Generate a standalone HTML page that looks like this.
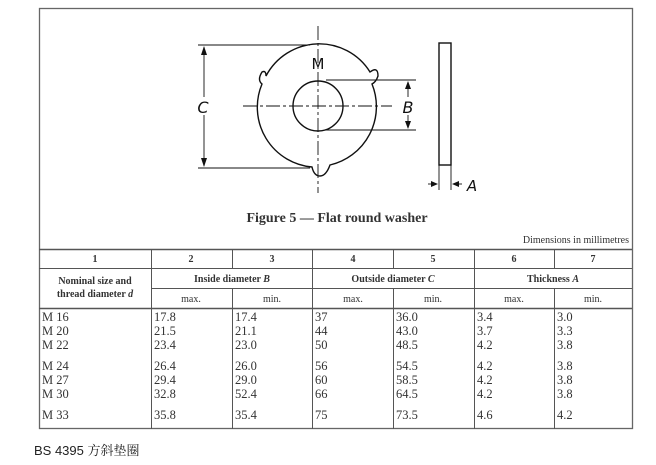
<!DOCTYPE html>
<html><head><meta charset="utf-8"><style>
html,body{margin:0;padding:0;background:#fff;width:656px;height:465px;overflow:hidden}
svg{display:block}
.s{font-family:"Liberation Serif",serif;fill:#333}
.d{font-family:"DejaVu Sans",sans-serif;fill:#111}
</style></head><body>
<svg width="656" height="465" viewBox="0 0 656 465" xmlns="http://www.w3.org/2000/svg">
<rect x="39.5" y="8.5" width="593" height="420" fill="none" stroke="#666" stroke-width="1.3"/>
<g stroke="#111" fill="none" stroke-width="1.4">
<path d="M266 76 A60 60 0 0 1 370 72 Q378 66 378 76 Q376 82 372 84 A60 60 0 0 1 330 165 Q326 176 320 176 Q314 176 312 167 A60 60 0 0 1 262 84 Q257 80 262 72 Q266 70 266 76 Z"/>
<circle cx="318" cy="106" r="25"/>
<rect x="439" y="43" width="12" height="122"/>
</g>
<g stroke="#111" stroke-width="0.9" fill="none">
<line x1="318" y1="26" x2="318" y2="193" stroke-dasharray="14,3,3,3"/>
<line x1="243" y1="106" x2="392" y2="106" stroke-dasharray="14,3,3,3"/>
<line x1="198" y1="45" x2="310" y2="45"/>
<line x1="198" y1="168" x2="310" y2="168"/>
<line x1="204" y1="47" x2="204" y2="166"/>
<line x1="326" y1="80" x2="416" y2="80"/>
<line x1="326" y1="130" x2="416" y2="130"/>
<line x1="408" y1="82" x2="408" y2="128"/>
<line x1="439" y1="165" x2="439" y2="190"/>
<line x1="451" y1="165" x2="451" y2="190"/>
<line x1="428" y1="184" x2="437" y2="184"/>
<line x1="453" y1="184" x2="462" y2="184"/>
</g>
<g fill="#111">
<path d="M204 46 l-3 9 h6z"/><path d="M204 167 l-3 -9 h6z"/>
<path d="M408 81 l-3 8 h6z"/><path d="M408 129 l-3 -8 h6z"/>
<path d="M438 184 l-7 -3 v6z"/><path d="M452 184 l7 -3 v6z"/>
</g>
<rect x="195" y="97" width="16" height="18" fill="#fff"/>
<rect x="400" y="97" width="16" height="18" fill="#fff"/>
<text x="203" y="113" class="d" font-size="16" font-style="italic" text-anchor="middle">C</text>
<text x="408" y="113" class="d" font-size="16" font-style="italic" text-anchor="middle">B</text>
<text x="318" y="69" class="d" font-size="15" text-anchor="middle">M</text>
<text x="472" y="191" class="d" font-size="15" font-style="italic" text-anchor="middle">A</text>
<text x="337" y="222" class="s" font-size="14" font-weight="bold" text-anchor="middle" fill="#222">Figure 5 — Flat round washer</text>
<text x="629" y="243" class="s" font-size="10" text-anchor="end">Dimensions in millimetres</text>
<g stroke="#555" stroke-width="1">
<line x1="39" y1="249.5" x2="632" y2="249.5" stroke-width="1.4"/>
<line x1="39" y1="268.5" x2="632" y2="268.5"/>
<line x1="151" y1="288.5" x2="632" y2="288.5"/>
<line x1="39" y1="308.5" x2="632" y2="308.5" stroke-width="1.4"/>
<line x1="151.5" y1="249" x2="151.5" y2="429"/>
<line x1="232.5" y1="249" x2="232.5" y2="268"/>
<line x1="232.5" y1="288" x2="232.5" y2="429"/>
<line x1="312.5" y1="249" x2="312.5" y2="429"/>
<line x1="393.5" y1="249" x2="393.5" y2="268"/>
<line x1="393.5" y1="288" x2="393.5" y2="429"/>
<line x1="474.5" y1="249" x2="474.5" y2="429"/>
<line x1="554.5" y1="249" x2="554.5" y2="268"/>
<line x1="554.5" y1="288" x2="554.5" y2="429"/>
</g>
<g class="s" font-size="10" font-weight="bold" text-anchor="middle" fill="#222">
<text x="95" y="262">1</text><text x="191" y="262">2</text><text x="272" y="262">3</text>
<text x="353" y="262">4</text><text x="433" y="262">5</text><text x="514" y="262">6</text><text x="593" y="262">7</text>
<text x="95" y="284">Nominal size and</text>
<text x="95" y="297">thread diameter <tspan font-style="italic">d</tspan></text>
<text x="232" y="282">Inside diameter <tspan font-style="italic">B</tspan></text>
<text x="393" y="282">Outside diameter <tspan font-style="italic">C</tspan></text>
<text x="553" y="282">Thickness <tspan font-style="italic">A</tspan></text>
</g>
<g class="s" font-size="10" text-anchor="middle" fill="#555">
<text x="191" y="302">max.</text><text x="272" y="302">min.</text>
<text x="353" y="302">max.</text><text x="433" y="302">min.</text>
<text x="514" y="302">max.</text><text x="593" y="302">min.</text>
</g>
<g class="s" font-size="12.5">
<text x="42" y="321">M 16</text><text x="42" y="335">M 20</text><text x="42" y="349">M 22</text>
<text x="42" y="370">M 24</text><text x="42" y="384">M 27</text><text x="42" y="398">M 30</text><text x="42" y="419">M 33</text>
<text x="154" y="321">17.8</text><text x="154" y="335">21.5</text><text x="154" y="349">23.4</text>
<text x="154" y="370">26.4</text><text x="154" y="384">29.4</text><text x="154" y="398">32.8</text><text x="154" y="419">35.8</text>
<text x="235" y="321">17.4</text><text x="235" y="335">21.1</text><text x="235" y="349">23.0</text>
<text x="235" y="370">26.0</text><text x="235" y="384">29.0</text><text x="235" y="398">52.4</text><text x="235" y="419">35.4</text>
<text x="315" y="321">37</text><text x="315" y="335">44</text><text x="315" y="349">50</text>
<text x="315" y="370">56</text><text x="315" y="384">60</text><text x="315" y="398">66</text><text x="315" y="419">75</text>
<text x="396" y="321">36.0</text><text x="396" y="335">43.0</text><text x="396" y="349">48.5</text>
<text x="396" y="370">54.5</text><text x="396" y="384">58.5</text><text x="396" y="398">64.5</text><text x="396" y="419">73.5</text>
<text x="477" y="321">3.4</text><text x="477" y="335">3.7</text><text x="477" y="349">4.2</text>
<text x="477" y="370">4.2</text><text x="477" y="384">4.2</text><text x="477" y="398">4.2</text><text x="477" y="419">4.6</text>
<text x="557" y="321">3.0</text><text x="557" y="335">3.3</text><text x="557" y="349">3.8</text>
<text x="557" y="370">3.8</text><text x="557" y="384">3.8</text><text x="557" y="398">3.8</text><text x="557" y="419">4.2</text>
</g>
<text x="34" y="455" font-family="'Liberation Sans','Noto Sans CJK SC',sans-serif" font-size="13" fill="#222">BS 4395 <tspan font-family="'Noto Serif CJK SC',serif">方斜垫圈</tspan></text>
</svg>
</body></html>
